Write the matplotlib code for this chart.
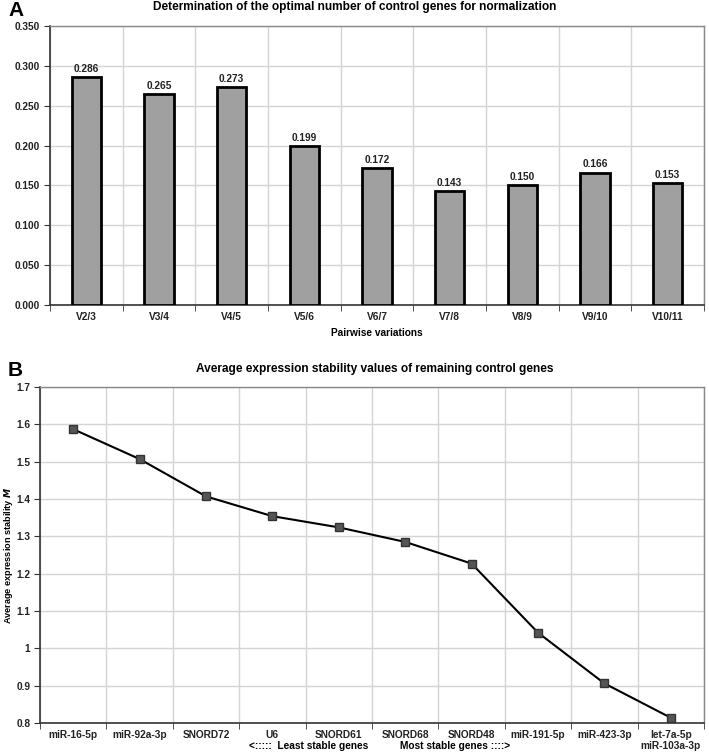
import matplotlib
matplotlib.use("Agg")
import matplotlib.pyplot as plt
import numpy as np

plt.rcParams['font.family'] = ['Liberation Sans', 'DejaVu Sans']

pairs = ["V2/3", "V3/4", "V4/5", "V5/6", "V6/7", "V7/8", "V8/9", "V9/10", "V10/11"]
pair_vals = [0.286, 0.265, 0.273, 0.199, 0.172, 0.143, 0.150, 0.166, 0.153]
pair_ticks = [0.000, 0.050, 0.100, 0.150, 0.200, 0.250, 0.300, 0.350]

genes = ["miR-16-5p", "miR-92a-3p", "SNORD72", "U6", "SNORD61", "SNORD68",
         "SNORD48", "miR-191-5p", "miR-423-3p", "let-7a-5p\nmiR-103a-3p"]
m_vals = [1.587, 1.507, 1.407, 1.354, 1.324, 1.285, 1.227, 1.042, 0.906, 0.814]
m_ticks = [0.8, 0.9, 1.0, 1.1, 1.2, 1.3, 1.4, 1.5, 1.6, 1.7]
m_tick_labels = ["0.8", "0.9", "1", "1.1", "1.2", "1.3", "1.4", "1.5", "1.6", "1.7"]

W, H = 709, 753
fig = plt.figure(figsize=(W / 100, H / 100), dpi=100)

def px_axes(l, t, r, b):
    return fig.add_axes([l / W, 1 - b / H, (r - l) / W, (b - t) / H])

grid_c = "#d4d4d4"
tick_kw = dict(fontsize=7.3, fontweight="bold", color="#222222")

# ---- Panel A ----
axA = px_axes(50, 26, 704, 305)
xa = np.arange(len(pairs))
axA.bar(xa, pair_vals, width=0.4, color="#a0a0a0", edgecolor="black", linewidth=2, zorder=3)
for x, v in zip(xa, pair_vals):
    axA.text(x, v + 0.004, f"{v:.3f}", ha="center", va="bottom", **tick_kw)
axA.set_xlim(-0.5, len(pairs) - 0.5)
axA.set_ylim(0, 0.35)
axA.set_yticks(pair_ticks)
axA.set_yticklabels([f"{t:.3f}" for t in pair_ticks], **tick_kw)
axA.set_xticks(xa)
axA.set_xticklabels(pairs, **tick_kw)
axA.set_xticks(np.arange(len(pairs) + 1) - 0.5, minor=True)
axA.tick_params(axis="x", which="major", length=0, pad=5)
axA.tick_params(axis="x", which="minor", length=4, color="#333333")
axA.tick_params(axis="y", length=4, color="#333333", pad=3)
axA.grid(True, which="minor", axis="x", color=grid_c, lw=1, zorder=0)
axA.grid(True, which="major", axis="y", color=grid_c, lw=1, zorder=0)
for s in ["left", "bottom"]:
    axA.spines[s].set_color("#333333"); axA.spines[s].set_linewidth(1.2)
for s in ["top", "right"]:
    axA.spines[s].set_color("#888888"); axA.spines[s].set_linewidth(1.0)
axA.set_xlabel("Pairwise variations", fontsize=7.3, fontweight="bold", labelpad=4)
fig.text(355 / W, 1 - 7 / H, "Determination of the optimal number of control genes for normalization",
         ha="center", va="center", fontsize=8.6, fontweight="bold")
fig.text(8 / W, 1 - 10 / H, "A", ha="left", va="center", fontsize=15, fontweight="bold")

# ---- Panel B ----
axB = px_axes(40, 387, 704, 723)
xb = np.arange(len(genes))
axB.plot(xb, m_vals, color="black", lw=1.5, marker="s", markersize=6,
         markerfacecolor="#555555", markeredgecolor="#333333", zorder=3)
axB.set_xlim(-0.5, len(genes) - 0.5)
axB.set_ylim(0.8, 1.7)
axB.set_yticks(m_ticks)
axB.set_yticklabels(m_tick_labels, **tick_kw)
axB.set_xticks(xb)
axB.set_xticklabels(genes, **tick_kw, linespacing=1.1, va="top")
axB.set_xticks(np.arange(len(genes) + 1) - 0.5, minor=True)
axB.tick_params(axis="x", which="major", length=0, pad=5)
axB.tick_params(axis="x", which="minor", length=4, color="#333333")
axB.tick_params(axis="y", length=4, color="#333333", pad=3)
axB.grid(True, which="minor", axis="x", color=grid_c, lw=1, zorder=0)
axB.grid(True, which="major", axis="y", color=grid_c, lw=1, zorder=0)
for s in ["left", "bottom"]:
    axB.spines[s].set_color("#333333"); axB.spines[s].set_linewidth(1.2)
for s in ["top", "right"]:
    axB.spines[s].set_color("#888888"); axB.spines[s].set_linewidth(1.0)
axB.set_ylabel("Average expression stability $\\boldsymbol{M}$", fontsize=6.6, fontweight="bold")
axB.yaxis.set_label_coords(-25 / 664, 0.5)
fig.text(309 / W, 1 - 746 / H, "<:::::  Least stable genes", ha="center", va="center",
         fontsize=7.3, fontweight="bold")
fig.text(455 / W, 1 - 746 / H, "Most stable genes ::::>", ha="center", va="center",
         fontsize=7.3, fontweight="bold")
fig.text(375 / W, 1 - 369 / H, "Average expression stability values of remaining control genes",
         ha="center", va="center", fontsize=8.6, fontweight="bold")
fig.text(8 / W, 1 - 371 / H, "B", ha="left", va="center", fontsize=15, fontweight="bold")

fig.savefig("out.png", dpi=100)
